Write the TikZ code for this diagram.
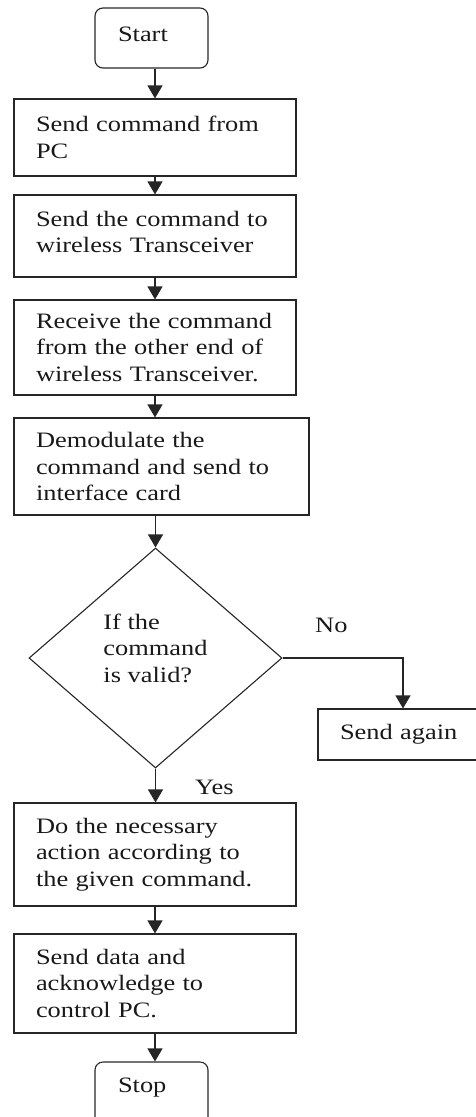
\documentclass[tikz,border=0pt]{standalone}
\usepackage{fontspec}
\setmainfont{Liberation Serif}[FakeStretch=1.2]
\usetikzlibrary{shapes.geometric,arrows.meta}
\newcommand\lowstrut[1]{\rule[-#1]{0pt}{#1}}
\begin{document}
\begin{tikzpicture}[x=1pt,y=-1pt,
  font=\fontsize{22pt}{26.7pt}\selectfont,
  every node/.style={text=black!90},
  proc/.style={draw=black!85, line width=1.1pt, rectangle, align=left,
    inner xsep=22pt, inner ysep=2pt},
  term/.style={draw=black!85, line width=1.1pt, rectangle, rounded corners=8pt,
    align=left, inner xsep=23pt, inner ysep=2pt, text width=67pt, minimum height=60pt},
  decision/.style={draw=black!85, line width=1.1pt, diamond, inner sep=0pt,
    align=left, minimum width=253pt, minimum height=220pt},
  arr/.style={draw=black!85, line width=1.1pt, -{Triangle[length=13pt,width=15pt]}},
  lbl/.style={inner sep=0pt, anchor=base west}]
\useasboundingbox (0,0) rectangle (476,1117);

\node[term] (start) at (151.5,38) {Start\lowstrut{6.6pt}};
\node[proc, text width=238pt, minimum height=77pt] (b1) at (155,137.5)
  {Send command from\\PC};
\node[proc, text width=238pt, minimum height=82pt] (b2) at (155,236)
  {Send the command to\\wireless Transceiver\lowstrut{8pt}};
\node[proc, text width=238pt, minimum height=95pt] (b3) at (155,347.5)
  {Receive the command\\from the other end of\\wireless Transceiver.};
\node[proc, text width=251pt, minimum height=97pt] (b4) at (161.5,466.5)
  {Demodulate the\\command and send to\\interface card};
\node[decision] (dec) at (155.5,658)
  {If the\\command\\is valid?\lowstrut{20pt}};
\node[proc, text width=180pt, minimum height=51pt] (again) at (430,734.5)
  {Send again};
\node[proc, text width=238pt, minimum height=103pt] (b5) at (155,854.5)
  {Do the necessary\\action according to\\the given command.};
\node[proc, text width=238pt, minimum height=99pt] (b6) at (155,983.5)
  {Send data and\\acknowledge to\\control PC.};
\node[term, minimum height=90pt] (stop) at (151.5,1107) {Stop\lowstrut{43pt}};

\node[lbl] (no) at (315,632) {No};
\node[lbl] (yes) at (195,794) {Yes};
\coordinate (nodrop) at (403,0);

\draw[arr] (start.south -| b1.north) -- (b1.north);
\draw[arr] (b1) -- (b2);
\draw[arr] (b2) -- (b3);
\draw[arr] (b3.south) -- (b3.south |- b4.north);
\draw[arr] (b4.south -| dec.north) -- (dec.north);
\draw[arr] (dec.east) -| (nodrop |- again.north);
\draw[arr] (dec.south) -- (dec.south |- b5.north);
\draw[arr] (b5) -- (b6);
\draw[arr] (b6.south) -- (b6.south |- stop.north);
\end{tikzpicture}
\end{document}
